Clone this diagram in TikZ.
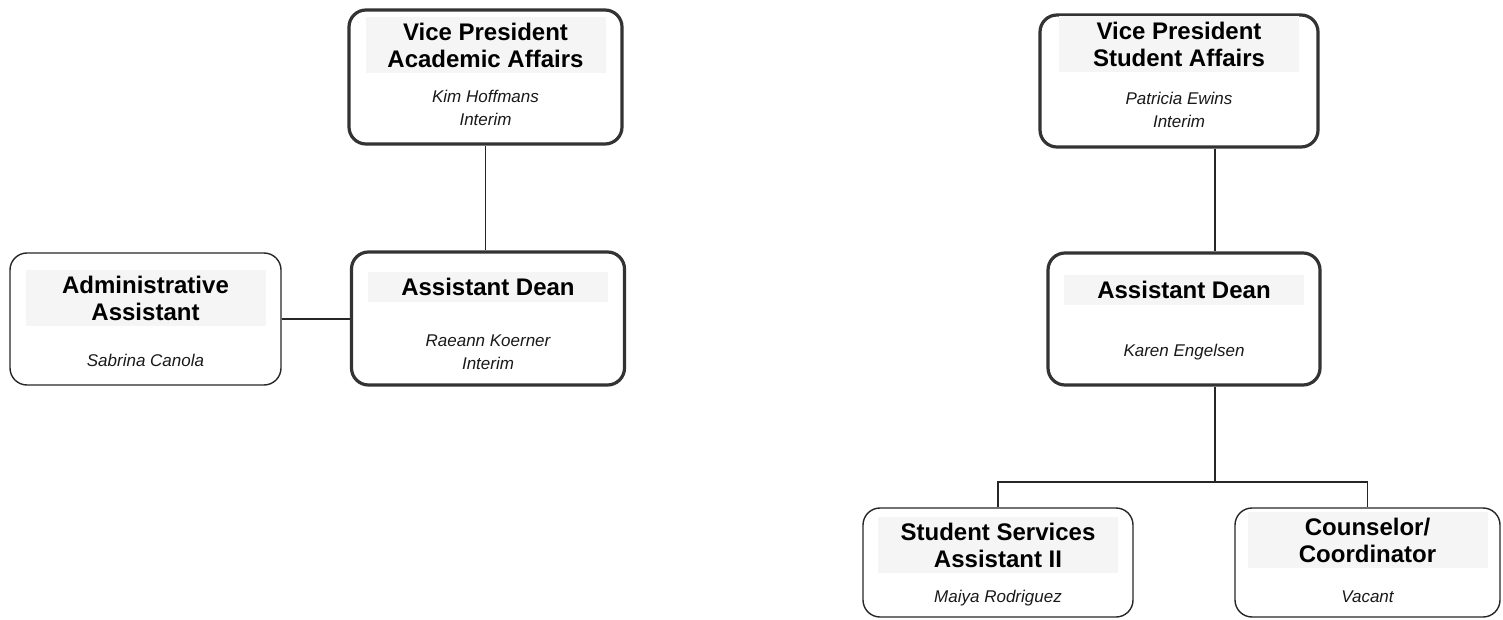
\documentclass[tikz,border=0pt]{standalone}
\usepackage{fontspec}
\setmainfont{Liberation Sans}
\begin{document}
\begin{tikzpicture}[x=1pt,y=-1pt,
  thickbox/.style={draw=black!80, line width=3.2pt, rounded corners=17pt, minimum width=273pt, minimum height=134pt, inner sep=0pt},
  thinbox/.style={draw=black!85, line width=1.4pt, rounded corners=17pt, minimum width=271pt, minimum height=132pt, inner sep=0pt},
  titletext/.style={align=center, font=\fontsize{24}{27}\selectfont\bfseries, fill=black!4, minimum width=240pt, inner xsep=8pt, inner ysep=6pt, text=black},
  nametext/.style={align=center, font=\fontsize{17}{23}\selectfont\itshape, inner sep=0pt, text=black!90},
  link/.style={draw=black!85, line width=1.2pt}]
\useasboundingbox (0,0) rectangle (1503,620);

% left chart
\node[thickbox] (vpa) at (485.5,77) {};
\node[titletext] (vpat) at (485.5,45) {Vice President\\Academic Affairs};
\node[nametext] (vpan) at (485.5,108) {Kim Hoffmans\\Interim};

\node[thinbox] (adm) at (145.5,319) {};
\node[titletext] (admt) at (145.5,298) {Administrative\\Assistant};
\node[nametext] (admn) at (145.5,360) {Sabrina Canola};

\node[thickbox, minimum height=133pt] (adl) at (488,318.5) {};
\node[titletext] (adlt) at (488,287) {Assistant Dean};
\node[nametext] (adln) at (488,352) {Raeann Koerner\\Interim};

% right chart
\node[thickbox, minimum width=278pt, minimum height=132pt] (vps) at (1179,81) {};
\node[titletext] (vpst) at (1179,44) {Vice President\\Student Affairs};
\node[nametext] (vpsn) at (1179,110) {Patricia Ewins\\Interim};

\node[thickbox, minimum width=272pt, minimum height=132pt] (adr) at (1184,319) {};
\node[titletext] (adrt) at (1184,290) {Assistant Dean};
\node[nametext] (adrn) at (1184,352) {Karen Engelsen};

\node[thinbox, minimum width=270pt, minimum height=109pt] (ssa) at (998,562.5) {};
\node[titletext] (ssat) at (998,545) {Student Services\\Assistant II};
\node[nametext] (ssan) at (998,598) {Maiya Rodriguez};

\node[thinbox, minimum width=265pt, minimum height=109pt] (cc) at (1367.5,562.5) {};
\node[titletext] (cct) at (1367.5,540) {Counselor/\\Coordinator};
\node[nametext] (ccn) at (1367.5,597) {Vacant};

% connectors
\draw[link] (vpa.south) -- (vpa.south |- adl.north);
\draw[link] (adm.east) -- (adm.east -| adl.west);

\coordinate (trunk) at (1215,482);
\draw[link] (trunk |- vps.south) -- (trunk |- adr.north);
\draw[link] (trunk |- adr.south) -- (trunk);
\draw[link] (ssa.north) |- (trunk) -| (cc.north);
\end{tikzpicture}
\end{document}
